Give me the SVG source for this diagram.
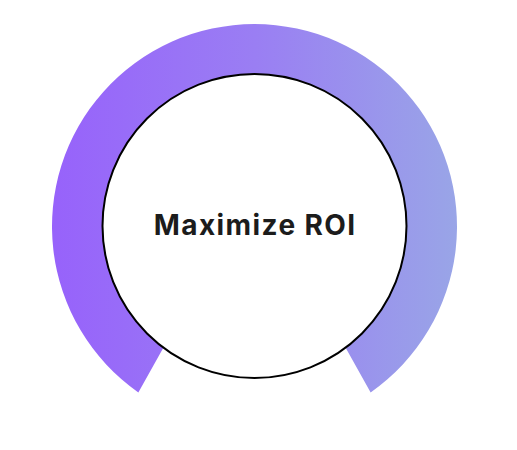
<svg xmlns="http://www.w3.org/2000/svg" width="517" height="450" viewBox="0 0 517 450">
  <style>
    .label { font-family: Inter, "Liberation Sans", sans-serif; font-weight: 700; font-size: 28px; letter-spacing: 1.4px; fill: #1c1c1c; }
    .core { fill: #ffffff; stroke: #000000; stroke-width: 2; }
  </style>
  <defs>
    <linearGradient id="ringGrad" gradientUnits="userSpaceOnUse" x1="52" y1="0" x2="457" y2="0">
      <stop offset="0" stop-color="#9762fb"/>
      <stop offset="0.5" stop-color="#9a7ef3"/>
      <stop offset="1" stop-color="#99a5e7"/>
    </linearGradient>
  </defs>
  <rect width="517" height="450" fill="#ffffff"/>
  <g id="ring">
    <path d="M 138.35 392.38 A 202.5 202.5 0 1 1 370.65 392.38 L 344.8 346.3 A 150 150 0 1 0 164.2 346.3 Z" fill="url(#ringGrad)"/>
  </g>
  <g id="roi-node">
    <circle class="core" cx="254.5" cy="226" r="152"/>
    <text class="label" x="255.2" y="235" text-anchor="middle">Maximize ROI</text>
  </g>
</svg>
